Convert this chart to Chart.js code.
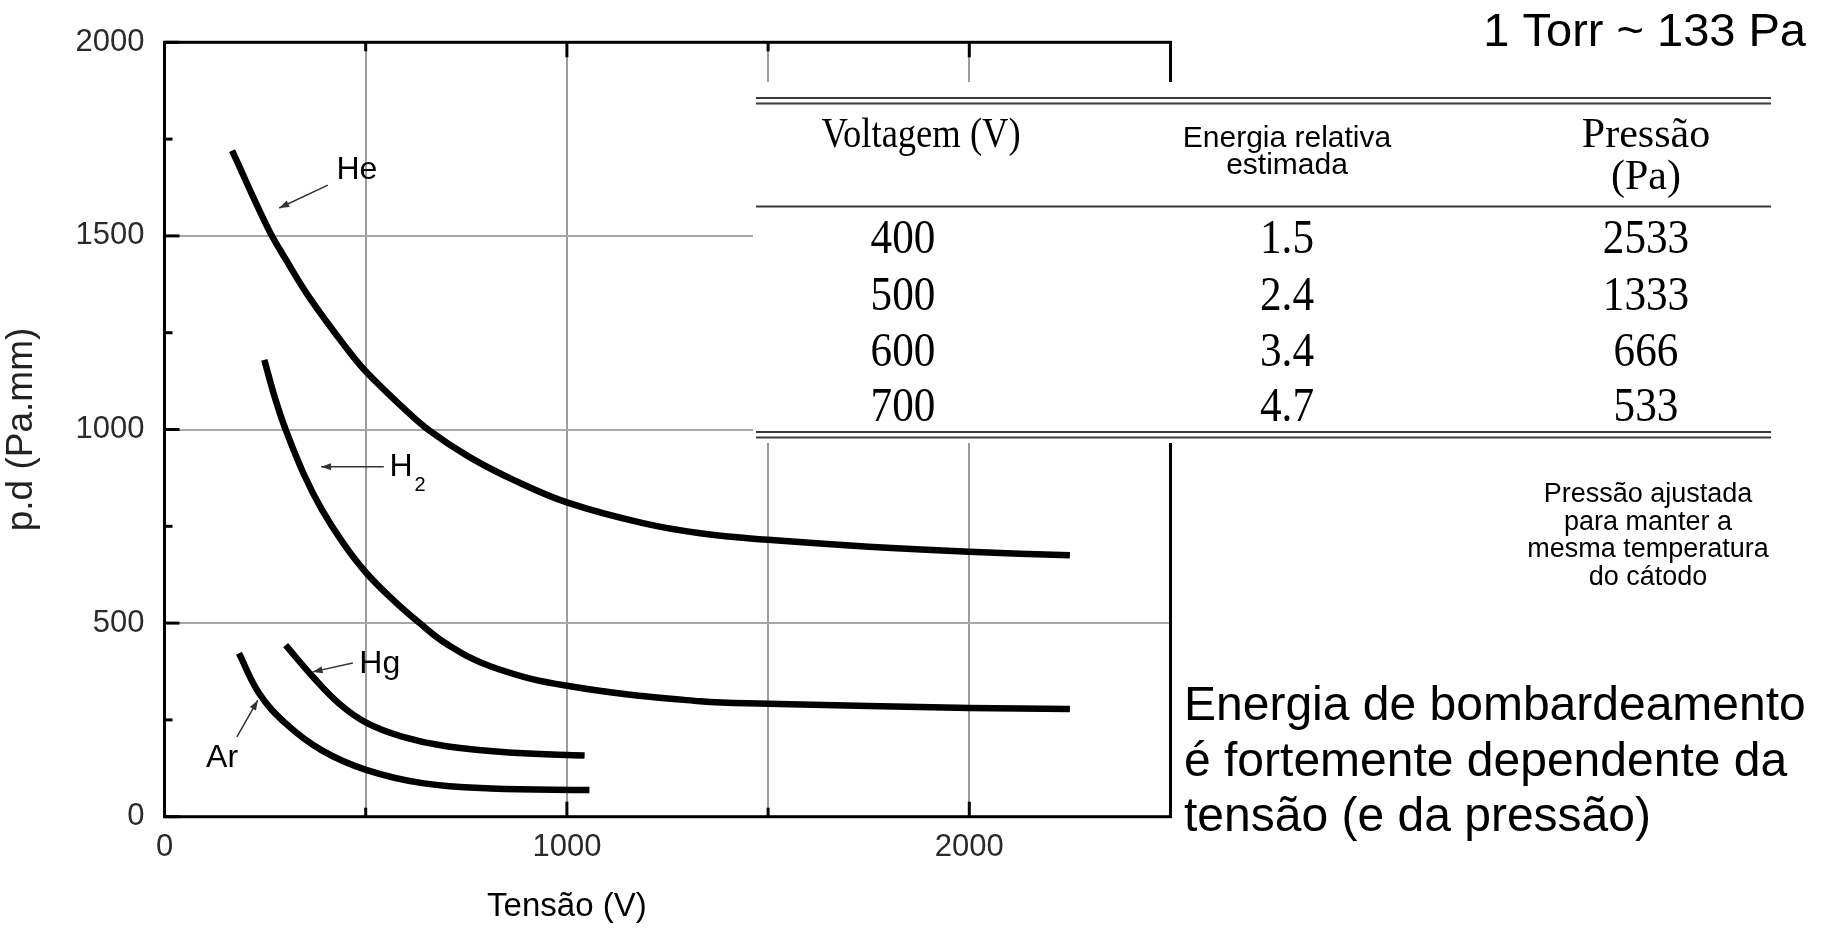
<!DOCTYPE html>
<html lang="pt">
<head>
<meta charset="utf-8">
<title>Curvas p.d x tensão</title>
<script src="https://cdn.jsdelivr.net/npm/chart.js@4.4.1/dist/chart.umd.min.js"></script>
<style>
  html, body { margin: 0; padding: 0; background: #fff; }
  #wrap { width: 1829px; height: 930px; }
</style>
</head>
<body>
<div id="wrap"><canvas id="paschen" width="1829" height="930"></canvas></div>
<script>
// p.d (Pa.mm) against tensão (V) for each gas
const heV = [168, 257, 301, 362, 456, 501, 590, 656, 756, 867, 1002, 1189, 1331, 1500, 1750, 2000, 2250];
const heP = [1720, 1520, 1440, 1338, 1205, 1149, 1059, 999, 930, 870, 811, 758, 732, 715, 697, 684, 675];

const h2V = [248, 275, 301, 346, 390, 445, 501, 568, 634, 700, 811, 1000, 1331, 1500, 2000, 2250];
const h2P = [1180, 1080, 1000, 885, 795, 705, 630, 560, 500, 447, 388, 338, 298, 292, 281, 278];

const hgV = [301, 368, 434, 501, 590, 700, 867, 1044];
const hgP = [443, 362, 292, 243, 207, 182, 165, 158];

const arV = [185, 235, 301, 390, 501, 645, 811, 1056];
const arP = [422, 319, 241, 172, 121, 86, 73, 69];

// axis ticks
const xTicks = [0, 500, 1000, 1500, 2000, 2500];
const xLabels = [0, 1000, 2000];
const yTicks = [0, 500, 1000, 1500, 2000];
const yMinor = [250, 750, 1250, 1750];

// table
const tabVoltagem = ['400', '500', '600', '700'];
const tabEnergia = ['1.5', '2.4', '3.4', '4.7'];
const tabPressao = ['2533', '1333', '666', '533'];

const sans = '"Liberation Sans", Arial, sans-serif';
const serif = '"Liberation Serif", "Times New Roman", serif';

const pts = (xs, ys) => xs.map((x, i) => ({ x, y: ys[i] }));

// gas names with their pointer arrows (data units)
const gasLabels = [
  { text: 'He', at: [478, 1670], from: [406, 1631], to: [285, 1572] },
  { text: 'H', sub: '2', at: [588, 903], from: [545, 904], to: [389, 904] },
  { text: 'Hg', at: [535, 394], from: [468, 397], to: [368, 374] },
  { text: 'Ar', at: [143, 151], from: [180, 206], to: [232, 301] }
];

// text with an optional horizontal squeeze
function label(ctx, str, x, y, font, align, sx) {
  ctx.save();
  ctx.font = font;
  ctx.fillStyle = '#000';
  ctx.textAlign = align || 'center';
  ctx.textBaseline = 'middle';
  ctx.translate(x, y);
  ctx.scale(sx || 1, 1);
  ctx.fillText(str, 0, 0);
  ctx.restore();
}

function arrow(ctx, x1, y1, x2, y2) {
  ctx.beginPath();
  ctx.moveTo(x1, y1);
  ctx.lineTo(x2, y2);
  ctx.stroke();
  const a = Math.atan2(y2 - y1, x2 - x1);
  const L = 10, W = 3.5;
  ctx.beginPath();
  ctx.moveTo(x2, y2);
  ctx.lineTo(x2 - L * Math.cos(a) + W * Math.sin(a), y2 - L * Math.sin(a) - W * Math.cos(a));
  ctx.lineTo(x2 - L * Math.cos(a) - W * Math.sin(a), y2 - L * Math.sin(a) + W * Math.cos(a));
  ctx.closePath();
  ctx.fill();
}

function seg(ctx, x1, y1, x2, y2) {
  ctx.beginPath();
  ctx.moveTo(x1, y1);
  ctx.lineTo(x2, y2);
  ctx.stroke();
}

const frame = {
  id: 'frame',
  beforeDatasetsDraw(chart) {
    const { ctx, chartArea: { left, right, top, bottom } } = chart;
    const xs = chart.scales.x, ys = chart.scales.y;
    ctx.save();
    ctx.strokeStyle = '#000';
    ctx.lineWidth = 3;
    ctx.strokeRect(left, top, right - left, bottom - top);
    // inward tick marks
    yTicks.forEach(v => { const y = ys.getPixelForValue(v); seg(ctx, left, y, left + 15, y); });
    yMinor.forEach(v => { const y = ys.getPixelForValue(v); seg(ctx, left, y, left + 8, y); });
    xTicks.forEach(v => {
      const x = xs.getPixelForValue(v);
      const len = xLabels.includes(v) ? 15 : 9;
      seg(ctx, x, bottom, x, bottom - len);
      seg(ctx, x, top, x, top + len);
    });
    ctx.restore();
  },
  afterDatasetsDraw(chart) {
    const { ctx } = chart;
    const xs = chart.scales.x, ys = chart.scales.y;
    const px = v => xs.getPixelForValue(v), py = v => ys.getPixelForValue(v);
    ctx.save();
    ctx.strokeStyle = '#333';
    ctx.fillStyle = '#333';
    ctx.lineWidth = 1.5;
    gasLabels.forEach(g => {
      arrow(ctx, px(g.from[0]), py(g.from[1]), px(g.to[0]), py(g.to[1]));
      const x = px(g.at[0]), y = py(g.at[1]);
      label(ctx, g.text, x, y, '32px ' + sans);
      if (g.sub) label(ctx, g.sub, x + 19, y + 18, '20px ' + sans);
    });
    // x axis title sits under the 1000 V tick
    label(ctx, 'Tensão (V)', px(1000), 907, '33px ' + sans);
    ctx.restore();
  },
  afterDraw(chart) {
    const { ctx } = chart;
    ctx.save();
    // table panel laid over the upper right of the plot
    ctx.fillStyle = '#fff';
    ctx.fillRect(753, 82, 1025, 361);
    ctx.strokeStyle = '#3a3a3a';
    ctx.lineWidth = 2;
    [98, 103.5, 206.5, 432, 437.5].forEach(y => seg(ctx, 756, y, 1771, y));

    const c1 = 903, c2 = 1287, c3 = 1646;
    label(ctx, 'Voltagem (V)', 921, 136, '42px ' + serif, 'center', 0.87);
    label(ctx, 'Energia relativa', c2, 139, '30px ' + sans);
    label(ctx, 'estimada', c2, 166, '30px ' + sans);
    label(ctx, 'Pressão', c3, 136, '42px ' + serif);
    label(ctx, '(Pa)', c3, 178, '42px ' + serif);
    const rowY = [240, 297, 353, 408];
    rowY.forEach((y, i) => {
      label(ctx, tabVoltagem[i], c1, y, '48px ' + serif, 'center', 0.9);
      label(ctx, tabEnergia[i], c2, y, '48px ' + serif, 'center', 0.9);
      label(ctx, tabPressao[i], c3, y, '48px ' + serif, 'center', 0.9);
    });

    label(ctx, '1 Torr ~ 133 Pa', 1806, 33, '47px ' + sans, 'right');

    ['Pressão ajustada', 'para manter a', 'mesma temperatura', 'do cátodo']
      .forEach((s, i) => label(ctx, s, 1648, 495 + i * 27.5, '27px ' + sans));

    ['Energia de bombardeamento', 'é fortemente dependente da', 'tensão (e da pressão)']
      .forEach((s, i) => label(ctx, s, 1184, 707 + i * 55.5, '48px ' + sans, 'left'));
    ctx.restore();
  }
};

const curve = (name, data) => ({
  label: name,
  data,
  borderColor: '#000',
  borderWidth: 6.5,
  borderCapStyle: 'butt',
  borderJoinStyle: 'round',
  pointRadius: 0,
  fill: false,
  tension: 0.4
});

Chart.defaults.font.family = sans;

new Chart(document.getElementById('paschen'), {
  type: 'line',
  data: {
    datasets: [
      curve('He', pts(heV, heP)),
      curve('H2', pts(h2V, h2P)),
      curve('Hg', pts(hgV, hgP)),
      curve('Ar', pts(arV, arP))
    ]
  },
  options: {
    responsive: false,
    animation: false,
    layout: { padding: { left: 0, top: 42.3, right: 658.5, bottom: 0 } },
    plugins: { legend: { display: false }, tooltip: { enabled: false } },
    scales: {
      x: {
        type: 'linear',
        min: 0,
        max: 2500,
        afterFit: s => { s.height = 113.3; },
        afterBuildTicks: s => { s.ticks = xTicks.map(v => ({ value: v })); },
        ticks: {
          callback: v => (xLabels.includes(v) ? String(v) : ''),
          font: { size: 31 },
          color: '#2a2a2a',
          padding: 12,
          maxRotation: 0,
          autoSkip: false
        },
        grid: { color: '#9c9c9c', lineWidth: 2, drawTicks: false },
        border: { display: false }
      },
      y: {
        min: 0,
        max: 2000,
        afterFit: s => { s.width = 164.5; },
        afterBuildTicks: s => { s.ticks = yTicks.map(v => ({ value: v })); },
        ticks: { callback: v => String(v), font: { size: 31 }, color: '#2a2a2a', padding: 20 },
        grid: { color: '#a8a8a8', lineWidth: 2, drawTicks: false },
        border: { display: false },
        title: { display: true, text: 'p.d (Pa.mm)', font: { size: 37 }, color: '#222', padding: { top: 0, bottom: 0 } }
      }
    }
  },
  plugins: [frame]
});
</script>
</body>
</html>
